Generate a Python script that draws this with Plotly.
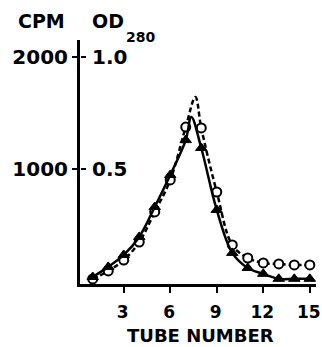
import plotly.graph_objects as go

# ---- data ----
tubes = list(range(1, 16))
cpm_circles = [27, 98, 195, 355, 622, 906, 1376, 1368, 799, 329, 213, 169, 160, 151, 151]
od_triangles = [0.022, 0.067, 0.120, 0.200, 0.333, 0.475, 0.630, 0.595, 0.320, 0.129, 0.062, 0.036, 0.014, 0.014, 0.014]

# hand-drawn curve peaks
cpm_peak_tube, cpm_peak_val = 7.62, 1643
od_peak_tube, od_peak_val = 7.36, 0.733

cpm_ticks = [1000, 2000]
cpm_ticktext = ["1000", "2000"]
od_ticks = [0.5, 1.0]
od_ticktext = ["0.5", "1.0"]
x_ticks = [3, 6, 9, 12, 15]

CPM_RANGE = [-18, 2149]
OD_RANGE = [CPM_RANGE[0] / 2000, CPM_RANGE[1] / 2000]
X_RANGE = [0.18, 15.40]

FONT = "DejaVu Sans"


def with_peak(xs, ys, px, py):
    pts = sorted(list(zip(xs, ys)) + [(px, py)])
    return [p[0] for p in pts], [p[1] for p in pts]


cx, cy = with_peak(tubes, cpm_circles, cpm_peak_tube, cpm_peak_val)
tx, ty = with_peak(tubes, od_triangles, od_peak_tube, od_peak_val)

fig = go.Figure()

# curves
fig.add_trace(go.Scatter(x=cx, y=cy, mode="lines", yaxis="y",
                         line=dict(color="black", width=2.5, dash="5px,3px", shape="spline", smoothing=1.0),
                         showlegend=False, hoverinfo="skip"))
fig.add_trace(go.Scatter(x=tx, y=ty, mode="lines", yaxis="y2",
                         line=dict(color="black", width=2.5, shape="spline", smoothing=1.0),
                         showlegend=False, hoverinfo="skip"))
# markers
fig.add_trace(go.Scatter(x=tubes, y=cpm_circles, mode="markers", yaxis="y",
                         marker=dict(symbol="circle", size=9, color="white",
                                     line=dict(color="black", width=2)),
                         showlegend=False))
fig.add_trace(go.Scatter(x=tubes, y=od_triangles, mode="markers", yaxis="y2",
                         marker=dict(symbol="triangle-up", size=10, color="black",
                                     line=dict(color="black", width=1)),
                         showlegend=False))

TICKFONT = dict(size=20, family=FONT, weight="bold")

fig.update_layout(
    width=322, height=347,
    margin=dict(l=80, r=6, t=40, b=63, pad=0, autoexpand=False),
    paper_bgcolor="white", plot_bgcolor="white",
    font=dict(family=FONT, color="black"),
    xaxis=dict(range=X_RANGE, showgrid=False, zeroline=False, automargin=False,
               showline=True, linecolor="black", linewidth=3,
               ticks="outside", ticklen=6, tickwidth=2, tickcolor="black",
               tickvals=x_ticks, tickfont=dict(size=17, family=FONT, weight="bold"),
               ticklabelstandoff=5, ticklabelshift=-1, ticklabeloverflow="allow"),
    yaxis=dict(range=CPM_RANGE, showgrid=False, zeroline=False, automargin=False,
               showline=True, linecolor="black", linewidth=3,
               ticks="outside", ticklen=5, tickwidth=2, tickcolor="black",
               tickvals=cpm_ticks, ticktext=cpm_ticktext,
               tickfont=TICKFONT, ticklabelstandoff=0, ticklabeloverflow="allow"),
    yaxis2=dict(range=OD_RANGE, overlaying="y", side="right", anchor="free", position=0,
                automargin=False,
                showgrid=False, zeroline=False, showline=False,
                ticks="outside", ticklen=5, tickwidth=2, tickcolor="black",
                tickvals=od_ticks, ticktext=od_ticktext,
                tickfont=TICKFONT, ticklabelstandoff=2, ticklabeloverflow="allow"),
)

# annotations placed by pixel position, converted to paper coords
plot_w = 322 - 80 - 6
plot_h = 347 - 40 - 63
labels = [("CPM", 41, 21, 19), ("OD", 108, 21, 19), ("280", 140, 37, 14), ("TUBE NUMBER", 200, 335, 18)]
for text, px, py, size in labels:
    fig.add_annotation(text=text, x=(px - 80) / plot_w, y=(347 - 63 - py) / plot_h,
                       xref="paper", yref="paper", showarrow=False,
                       xanchor="center", yanchor="middle",
                       font=dict(size=size, family=FONT, weight="bold"))

fig.write_html("out.html", config={"displayModeBar": False},
               post_script="document.body.style.margin='0';document.body.style.overflow='hidden';")
